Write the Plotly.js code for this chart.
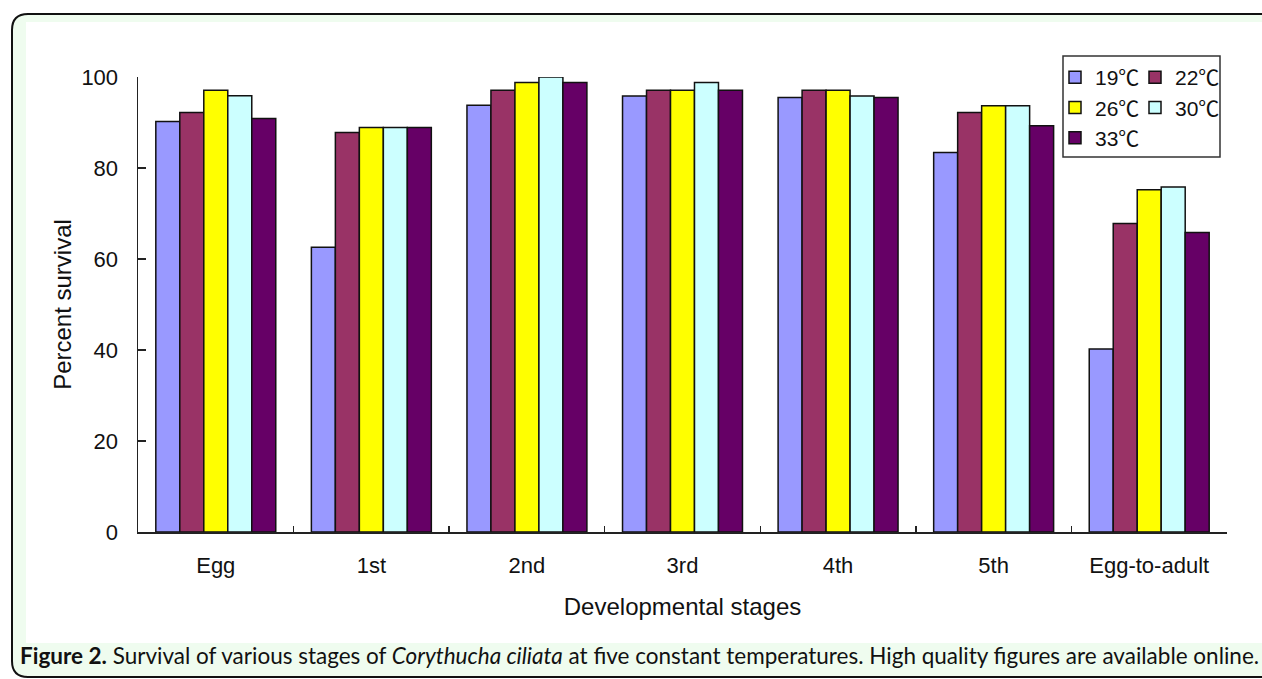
<!DOCTYPE html>
<html>
<head>
<meta charset="utf-8">
<script src="https://cdn.plot.ly/plotly-3.0.1.min.js"></script>
<style>
html,body{margin:0;padding:0;background:#fff;}
#chart{width:1262px;height:679px;}
</style>
</head>
<body>
<div id="chart"></div>
<script>
var stages = ["Egg", "1st", "2nd", "3rd", "4th", "5th", "Egg-to-adult"];
var tempNames = ["19℃", "22℃", "26℃", "30℃", "33℃"];
var surv19 = [90.2, 62.6, 93.8, 95.8, 95.5, 83.4, 40.2];
var surv22 = [92.2, 87.8, 97.1, 97.1, 97.1, 92.2, 67.8];
var surv26 = [97.1, 88.9, 98.8, 97.1, 97.1, 93.7, 75.2];
var surv30 = [95.9, 88.9, 100.0, 98.8, 95.8, 93.7, 75.8];
var surv33 = [90.9, 88.9, 98.8, 97.1, 95.5, 89.3, 65.8];
var yTicks = [0, 20, 40, 60, 80, 100];

var colors = ["#9999ff", "#993366", "#ffff00", "#ccffff", "#660066"];
var seriesValues = [surv19, surv22, surv26, surv30, surv33];
var legendIds = ["legend", "legend2", "legend", "legend2", "legend"];

// plot area in pixels
var L = 138, R = 1227, T = 77, B = 532, W = 1262, H = 679;
function px(x){ return (x - L) / (R - L); }
function py(y){ return (B - y) / (B - T); }

var traces = seriesValues.map(function(vals, i){
  return {
    type: "bar",
    name: tempNames[i],
    x: stages,
    y: vals,
    legend: legendIds[i],
    marker: {color: colors[i], line: {color: "#111", width: 1.5}},
    hoverinfo: "x+y+name"
  };
});

var rr = 16;
var x0 = 12, y0 = 14, x1 = 1290, y1 = 677;
var outerPath = "M" + px(x0) + "," + py(y0 + rr) +
  " Q" + px(x0) + "," + py(y0) + " " + px(x0 + rr) + "," + py(y0) +
  " L" + px(x1) + "," + py(y0) +
  " L" + px(x1) + "," + py(y1) +
  " L" + px(x0 + rr) + "," + py(y1) +
  " Q" + px(x0) + "," + py(y1) + " " + px(x0) + "," + py(y1 - rr) + " Z";

var shapes = [
  {type: "path", xref: "paper", yref: "paper", layer: "below", path: outerPath,
   fillcolor: "#effcef", line: {color: "#111", width: 2}},
  {type: "rect", xref: "paper", yref: "paper", layer: "below",
   x0: px(26), x1: px(1290), y0: py(22), y1: py(643),
   fillcolor: "#ffffff", line: {width: 0}},
  {type: "rect", xref: "paper", yref: "paper", layer: "below",
   x0: px(1063), x1: px(1220), y0: py(56), y1: py(157),
   fillcolor: "#ffffff", line: {color: "#333", width: 1.5}}
];

var tickFont = {family: "Liberation Sans, Arial, sans-serif", size: 22, color: "#111"};
var legFont = {family: "Liberation Sans, Noto Sans CJK SC, sans-serif", size: 21, color: "#111"};

var layout = {
  width: W, height: H,
  margin: {l: L, r: W - R, t: T, b: H - B, pad: 0},
  paper_bgcolor: "#ffffff",
  plot_bgcolor: "rgba(0,0,0,0)",
  barmode: "group",
  bargap: 0.229,
  bargroupgap: 0,
  showlegend: true,
  legend: {x: px(1055), y: py(57), xanchor: "left", yanchor: "top",
    bgcolor: "rgba(0,0,0,0)", borderwidth: 0, font: legFont, tracegroupgap: 0},
  legend2: {x: px(1135), y: py(57), xanchor: "left", yanchor: "top",
    bgcolor: "rgba(0,0,0,0)", borderwidth: 0, font: legFont, tracegroupgap: 0},
  xaxis: {
    type: "category",
    showline: true, linecolor: "#222", linewidth: 1.5,
    ticks: "inside", tickson: "boundaries", ticklen: 6, tickcolor: "#222", tickwidth: 1.5,
    tickfont: tickFont, ticklabelstandoff: 13,
    showgrid: false, zeroline: false,
    title: {text: "Developmental stages", font: {family: "Liberation Sans, Arial, sans-serif", size: 24, color: "#111"}, standoff: 21}
  },
  yaxis: {
    range: [0, 100], tickvals: yTicks,
    showline: true, linecolor: "#222", linewidth: 1.5,
    ticks: "inside", ticklen: 8, tickcolor: "#222", tickwidth: 1.5,
    tickfont: tickFont, ticklabelstandoff: 14,
    showgrid: false, zeroline: false,
    title: {text: "Percent survival", font: {family: "Liberation Sans, Arial, sans-serif", size: 24, color: "#111"}, standoff: 3}
  },
  shapes: shapes,
  annotations: [{
    xref: "paper", yref: "paper", x: px(18), y: py(655), xanchor: "left", yanchor: "middle",
    showarrow: false, align: "left",
    text: "<b>Figure 2.</b> Survival of various stages of <i>Corythucha ciliata</i> at five constant temperatures. High quality figures are available online.",
    font: {family: "Lato, sans-serif", size: 22.5, color: "#111"}
  }]
};

Plotly.newPlot("chart", traces, layout, {displayModeBar: false, staticPlot: true});
</script>
</body>
</html>
